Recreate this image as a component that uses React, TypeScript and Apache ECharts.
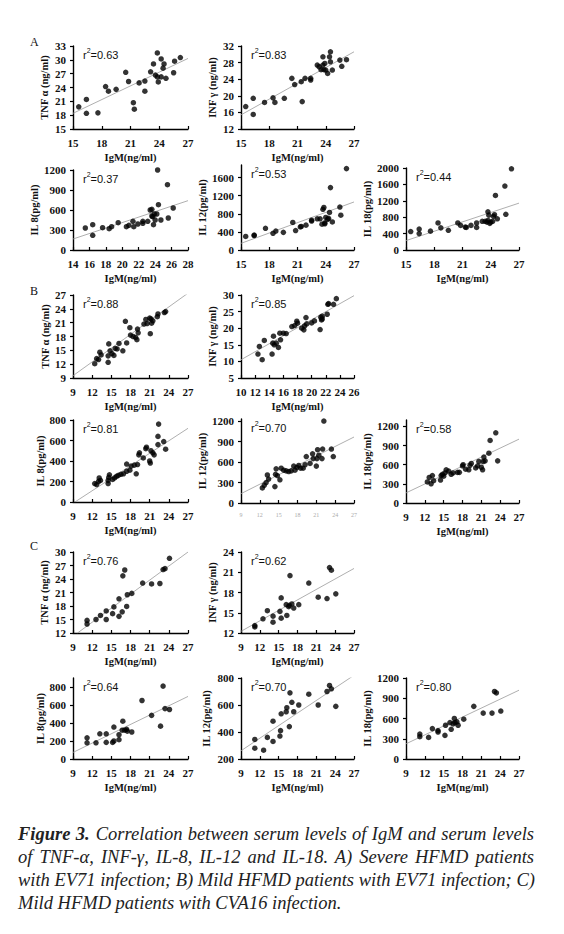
import React, { useEffect, useRef } from "react";
import * as echarts from "echarts";

const SERIF = "'Liberation Serif', 'Times New Roman', serif";
const SANS = "'Liberation Sans', Arial, sans-serif";

// ---- Section A: severe HFMD, EV71 ----
const aTnf = [[15.6,19.8],[16.4,21.4],[16.4,18.4],[17.6,18.5],[18.4,24.2],[18.7,23.2],[19.5,23.6],[20.5,27.3],[20.8,25.3],[21.3,20.7],[21.4,19.3],[21.9,25.0],[22.5,25.4],[22.5,23.2],[23.1,27.4],[23.4,29.1],[23.6,26.7],[23.8,31.5],[23.9,25.2],[23.8,26.3],[24.2,26.3],[24.2,30.2],[24.4,28.2],[24.5,29.1],[24.7,26.0],[25.5,27.2],[25.6,29.7],[26.2,30.5]];
const aInf = [[15.5,17.4],[16.3,19.4],[16.3,15.5],[17.5,18.4],[18.4,19.5],[18.6,18.4],[19.6,19.4],[20.4,24.2],[20.7,22.7],[21.4,23.4],[21.5,18.6],[21.8,24.2],[22.4,24.2],[22.4,23.8],[23.1,27.4],[23.3,27.0],[23.5,26.3],[23.7,29.4],[23.7,27.4],[23.8,26.3],[24.0,26.2],[24.2,25.4],[24.4,29.4],[24.5,30.6],[24.5,28.2],[24.7,26.2],[25.5,28.6],[25.7,27.1],[26.2,28.7],[23.9,27.8]];
const aIl8 = [[15.5,330],[16.4,380],[16.4,220],[17.6,335],[18.4,320],[18.7,350],[19.5,410],[20.5,350],[20.8,370],[21.3,430],[21.4,350],[21.9,390],[22.5,400],[22.5,430],[23.1,430],[23.4,600],[23.6,610],[23.7,500],[23.8,380],[23.9,540],[24.0,450],[24.2,540],[24.3,1200],[24.4,680],[24.7,450],[25.5,980],[25.6,480],[26.2,630],[23.6,510]];
const aIl12 = [[15.5,300],[16.4,320],[16.4,330],[17.6,480],[18.4,370],[18.7,420],[19.5,390],[20.5,610],[20.8,430],[21.3,510],[21.4,520],[21.9,550],[22.5,640],[22.5,660],[23.1,690],[23.4,690],[23.6,570],[23.7,900],[23.8,940],[23.9,580],[24.0,720],[24.2,680],[24.3,700],[24.4,830],[24.5,1380],[24.7,620],[25.5,950],[25.6,770],[26.2,1800],[23.9,600]];
const aIl18 = [[15.5,450],[16.4,510],[16.4,400],[17.6,460],[18.4,660],[18.7,540],[19.5,480],[20.5,660],[20.8,600],[21.3,560],[21.4,550],[21.9,600],[22.5,660],[22.5,550],[23.1,700],[23.4,700],[23.6,680],[23.7,930],[23.8,850],[23.9,650],[24.0,680],[24.2,700],[24.3,820],[24.4,860],[24.5,1330],[24.7,760],[25.5,1560],[25.6,870],[26.2,1980],[23.7,720]];

// ---- Section B: mild HFMD, EV71 ----
const bTnf = [[12.4,12.1],[12.7,13.2],[13.0,13.0],[13.2,14.6],[13.4,14.0],[14.5,12.4],[14.5,13.8],[14.6,16.4],[14.8,14.9],[15.1,14.3],[15.4,13.9],[15.6,15.4],[15.9,15.3],[16.2,16.5],[16.8,14.9],[17.2,21.3],[17.4,16.6],[17.9,19.9],[18.0,18.3],[18.4,18.0],[18.8,17.8],[19.0,17.3],[19.1,19.6],[19.2,18.8],[20.1,20.7],[20.4,21.7],[20.6,20.8],[21.0,22.0],[21.1,18.6],[21.2,21.8],[21.5,21.4],[22.2,22.3],[22.3,22.9],[23.3,23.2],[23.5,23.4],[21.3,20.9]];
const bInf = [[12.4,12.2],[12.6,14.5],[13.0,10.5],[13.3,16.3],[14.4,12.2],[14.5,15.5],[14.6,17.6],[14.7,15.0],[15.0,15.5],[15.3,14.2],[15.5,18.5],[15.6,16.5],[16.0,18.5],[16.4,18.4],[17.2,20.5],[17.6,20.8],[17.9,22.1],[18.0,21.5],[18.6,20.0],[18.9,19.5],[19.0,20.7],[19.2,23.2],[19.3,21.3],[20.0,21.6],[20.4,22.2],[21.2,19.6],[21.3,23.3],[21.4,22.5],[21.5,22.8],[22.2,24.2],[22.3,27.2],[22.4,27.4],[23.1,27.2],[23.5,28.9],[21.5,23.6]];
const bIl8 = [[12.4,180],[12.7,170],[13.0,200],[13.1,235],[13.3,210],[14.5,180],[14.5,210],[14.6,240],[14.7,265],[15.2,220],[15.5,235],[15.8,250],[16.1,260],[16.5,270],[16.9,275],[17.4,300],[17.4,370],[17.9,310],[18.1,350],[18.6,360],[18.9,275],[19.1,365],[19.3,460],[19.4,480],[20.0,430],[20.4,520],[20.5,535],[21.0,400],[21.1,380],[21.2,500],[21.5,480],[21.7,460],[22.3,560],[22.3,640],[22.4,760],[23.2,590],[23.5,515]];
const bIl12 = [[12.4,220],[12.7,260],[13.0,300],[13.2,410],[13.4,350],[14.4,240],[14.5,420],[14.6,500],[14.8,400],[15.2,340],[15.4,510],[15.8,480],[16.2,470],[16.6,460],[17.0,470],[17.4,540],[17.6,480],[17.9,520],[18.2,550],[18.5,510],[18.9,510],[19.2,560],[19.4,680],[20.0,580],[20.4,720],[20.5,650],[21.0,540],[21.1,650],[21.2,780],[21.4,700],[21.9,650],[22.0,790],[22.2,1200],[23.4,790],[23.7,680]];
const bIl18 = [[12.4,330],[12.7,400],[13.0,300],[13.2,430],[13.4,350],[14.5,360],[14.6,430],[14.8,450],[15.0,420],[15.2,470],[15.4,520],[15.8,500],[16.2,450],[16.5,470],[17.2,480],[17.5,480],[18.0,580],[18.1,600],[18.5,530],[19.0,520],[19.2,590],[19.4,620],[20.1,550],[20.4,580],[20.6,650],[21.0,560],[21.2,520],[21.3,650],[21.4,720],[21.6,660],[22.2,780],[22.4,980],[23.3,1100],[23.6,660]];

// ---- Section C: mild HFMD, CVA16 ----
const cTnf = [[11.2,14.8],[11.2,14.0],[12.6,15.0],[13.3,15.9],[14.2,16.9],[14.2,15.0],[15.2,16.3],[15.4,17.8],[16.2,19.6],[16.2,15.7],[16.7,16.7],[16.8,24.7],[17.1,26.0],[17.4,17.9],[17.5,20.5],[18.2,20.8],[19.9,23.1],[21.3,22.9],[22.6,23.0],[23.1,26.1],[23.4,26.3],[24.1,28.6]];
const cInf = [[11.2,13.1],[11.2,12.9],[12.5,14.1],[13.2,15.3],[14.1,14.5],[14.1,13.6],[15.2,15.2],[15.4,17.2],[15.4,14.2],[16.2,16.2],[16.3,14.6],[16.6,15.9],[16.8,20.5],[16.7,16.1],[17.1,16.3],[17.4,15.7],[18.2,16.2],[19.8,19.4],[21.3,17.3],[22.7,17.1],[23.1,21.7],[23.4,21.3],[24.1,17.8]];
const cIl8 = [[11.2,235],[11.2,180],[12.6,180],[13.2,280],[14.2,280],[14.2,185],[15.2,185],[15.4,200],[15.4,355],[16.2,270],[16.2,215],[16.7,320],[16.8,420],[17.1,320],[17.4,330],[17.5,310],[18.2,300],[19.8,650],[21.3,485],[22.7,365],[23.1,810],[23.4,560],[24.1,550]];
const cIl12 = [[11.2,345],[11.2,280],[12.6,265],[13.2,360],[14.1,480],[14.1,330],[15.2,370],[15.3,410],[15.4,535],[16.2,550],[16.3,580],[16.7,440],[16.8,690],[17.1,620],[17.4,550],[18.2,600],[19.8,680],[21.3,600],[22.7,700],[23.1,745],[23.4,720],[24.1,590]];
const cIl18 = [[11.2,370],[11.2,330],[12.6,320],[13.2,450],[14.1,420],[14.1,400],[15.2,350],[15.3,500],[16.0,540],[16.2,440],[16.5,520],[16.7,600],[16.8,540],[17.1,550],[17.3,500],[18.2,590],[19.8,780],[21.3,680],[22.7,680],[23.1,1000],[23.4,980],[24.1,710]];

// regression line end points [x0, y0, x1, y1]
const fits = {
  aTnf: [15, 18.4, 27, 30.3], aInf: [15, 15.4, 27, 30.6], aIl8: [14, 165, 28, 740], aIl12: [15, 147, 27, 1062], aIl18: [15, 229, 27, 1143],
  bTnf: [9, 9.5, 27, 27.4], bInf: [10, 10.5, 26, 29.8], bIl8: [9.3, 0, 27, 719], bIl12: [9, 137, 27, 966], bIl18: [9, 158, 27, 1000],
  cTnf: [9.7, 12, 27, 30], cInf: [9, 12.25, 27, 21.56], cIl8: [9, 73, 27, 695], cIl12: [9, 261, 27, 820], cIl18: [9, 225, 27, 1019],
};

const r2Labels = {
  aTnf: "0.63", aInf: "0.83", aIl8: "0.37", aIl12: "0.53", aIl18: "0.44",
  bTnf: "0.88", bInf: "0.85", bIl8: "0.81", bIl12: "0.70", bIl18: "0.58",
  cTnf: "0.76", cInf: "0.62", cIl8: "0.64", cIl12: "0.70", cIl18: "0.80",
};

const yNames = {
  tnf: "TNF α (ng/ml)", inf: "INF γ (ng/ml)", il8: "IL 8(pg/ml)", il12: "IL 12(pg/ml)", il18: "IL 18(pg/ml)",
};

const captionLines = [
  "Correlation between serum levels of IgM and serum levels",
  "of TNF-α, INF-γ, IL-8, IL-12 and IL-18. A) Severe HFMD patients",
  "with EV71 infection; B) Mild HFMD patients with EV71 infection; C)",
  "Mild HFMD patients with CVA16 infection.",
];

const COLS = [
  { left: 73, width: 115 },
  { left: 241, width: 113 },
  { left: 406, width: 113 },
];

type Panel = {
  key: string; data: number[][]; col: number; top: number; bottom: number;
  x: [number, number, number]; y: [number, number, number];
  yName: string; gapY: number; hideMaxY?: boolean; fadedX?: boolean;
};

const panels: Panel[] = [
  { key: "aTnf", data: aTnf, col: 0, top: 46, bottom: 129, x: [15, 27, 3], y: [15, 33, 3], yName: yNames.tnf, gapY: 23 },
  { key: "aInf", data: aInf, col: 1, top: 46, bottom: 129, x: [15, 27, 3], y: [12, 32, 4], yName: yNames.inf, gapY: 23 },
  { key: "aIl8", data: aIl8, col: 0, top: 170, bottom: 250, x: [14, 28, 2], y: [0, 1200, 300], yName: yNames.il8, gapY: 33 },
  { key: "aIl12", data: aIl12, col: 1, top: 165, bottom: 250, x: [15, 27, 3], y: [0, 1880, 400], yName: yNames.il12, gapY: 33, hideMaxY: true },
  { key: "aIl18", data: aIl18, col: 2, top: 168, bottom: 250, x: [15, 27, 3], y: [0, 2000, 400], yName: yNames.il18, gapY: 30 },
  { key: "bTnf", data: bTnf, col: 0, top: 295, bottom: 378, x: [9, 27, 3], y: [9, 27, 3], yName: yNames.tnf, gapY: 22 },
  { key: "bInf", data: bInf, col: 1, top: 295, bottom: 378, x: [10, 26, 2], y: [5, 30, 5], yName: yNames.inf, gapY: 23 },
  { key: "bIl8", data: bIl8, col: 0, top: 420, bottom: 502, x: [9, 27, 3], y: [0, 800, 200], yName: yNames.il8, gapY: 25 },
  { key: "bIl12", data: bIl12, col: 1, top: 419, bottom: 503, x: [9, 27, 3], y: [0, 1230, 300], yName: yNames.il12, gapY: 31, hideMaxY: true, fadedX: true },
  { key: "bIl18", data: bIl18, col: 2, top: 420, bottom: 503, x: [9, 27, 3], y: [0, 1300, 300], yName: yNames.il18, gapY: 29, hideMaxY: true },
  { key: "cTnf", data: cTnf, col: 0, top: 552, bottom: 633, x: [9, 27, 3], y: [12, 30, 3], yName: yNames.tnf, gapY: 23 },
  { key: "cInf", data: cInf, col: 1, top: 552, bottom: 633, x: [9, 27, 3], y: [12, 24, 3], yName: yNames.inf, gapY: 23 },
  { key: "cIl8", data: cIl8, col: 0, top: 678, bottom: 759, x: [9, 27, 3], y: [0, 900, 200], yName: yNames.il8, gapY: 25, hideMaxY: true },
  { key: "cIl12", data: cIl12, col: 1, top: 678, bottom: 759, x: [9, 27, 3], y: [200, 800, 200], yName: yNames.il12, gapY: 29 },
  { key: "cIl18", data: cIl18, col: 2, top: 678, bottom: 759, x: [9, 27, 3], y: [0, 1200, 300], yName: yNames.il18, gapY: 30 },
];

const sectionLetters = [
  { text: "A", x: 30, y: 36 },
  { text: "B", x: 30, y: 285 },
  { text: "C", x: 30, y: 540 },
];

const plain = (v: number) => String(v);

function buildOption() {
  const tickLabel = { fontFamily: SERIF, fontWeight: "bold" as const, fontSize: 11, color: "#111", formatter: plain };
  const nameStyle = { fontFamily: SERIF, fontWeight: "bold" as const, fontSize: 10.5, color: "#111" };
  const axisLine = { show: true, onZero: false, lineStyle: { color: "#000", width: 1.4 } };

  const grid = panels.map((p) => ({
    left: COLS[p.col].left,
    top: p.top,
    width: COLS[p.col].width,
    height: p.bottom - p.top,
    outerBoundsMode: "none",
    containLabel: false,
  }));

  const xAxis = panels.map((p, i) => ({
    gridIndex: i,
    type: "value",
    min: p.x[0],
    max: p.x[1],
    interval: p.x[2],
    name: p.fadedX ? "" : "IgM(ng/ml)",
    nameLocation: "middle",
    nameGap: 23,
    nameTextStyle: nameStyle,
    axisLine,
    axisTick: { show: true, inside: true, length: 3, lineStyle: { color: "#000", width: 1.2 } },
    splitLine: { show: false },
    axisLabel: p.fadedX
      ? { fontFamily: SERIF, fontSize: 6, color: "#aaa", margin: 9, formatter: plain }
      : { ...tickLabel, margin: 8 },
  }));

  const yAxis = panels.map((p, i) => ({
    gridIndex: i,
    type: "value",
    min: p.y[0],
    max: p.y[1],
    interval: p.y[2],
    name: p.yName,
    nameLocation: "middle",
    nameRotate: 90,
    nameGap: p.gapY,
    nameTextStyle: nameStyle,
    axisLine,
    axisTick: { show: true, inside: false, length: 3, lineStyle: { color: "#000", width: 1.2 } },
    splitLine: { show: false },
    axisLabel: { ...tickLabel, margin: 7, showMaxLabel: !p.hideMaxY },
  }));

  const series: any[] = [];
  panels.forEach((p, i) => {
    const f = (fits as any)[p.key];
    series.push({
      type: "line",
      xAxisIndex: i,
      yAxisIndex: i,
      data: [[f[0], f[1]], [f[2], f[3]]],
      symbol: "none",
      silent: true,
      clip: true,
      lineStyle: { color: "#9a9a9a", width: 0.8 },
      z: 2,
    });
    series.push({
      type: "scatter",
      xAxisIndex: i,
      yAxisIndex: i,
      data: p.data,
      symbol: "circle",
      symbolSize: 5.5,
      itemStyle: { color: "#000" },
      z: 3,
    });
  });

  const graphic: any[] = [];
  sectionLetters.forEach((s) => {
    graphic.push({
      type: "text",
      x: s.x,
      y: s.y,
      style: { text: s.text, font: `12px ${SERIF}`, fill: "#111" },
    });
  });
  panels.forEach((p) => {
    graphic.push({
      type: "text",
      x: COLS[p.col].left + 10,
      y: p.top + 1,
      style: {
        text: `{r|r}{s|2}{r|=${(r2Labels as any)[p.key]}}`,
        rich: {
          r: { fontFamily: SANS, fontSize: 11, fill: "#111", lineHeight: 13, verticalAlign: "bottom" },
          s: { fontFamily: SANS, fontSize: 7, fill: "#111", lineHeight: 13, verticalAlign: "top" },
        },
      },
    });
  });

  return { animation: false, grid, xAxis, yAxis, series, graphic };
}

export default function App() {
  const ref = useRef<HTMLDivElement>(null);
  useEffect(() => {
    if (!ref.current) return;
    const chart = echarts.init(ref.current, null, { renderer: "svg" });
    chart.setOption(buildOption() as any);
    return () => chart.dispose();
  }, []);

  const lineStyle = (last: boolean): React.CSSProperties => ({
    width: 516,
    height: 23,
    whiteSpace: "nowrap",
    textAlign: last ? "left" : "justify",
    textAlignLast: last ? "left" : "justify",
  });

  return (
    <div style={{ position: "absolute", left: 0, top: 0, width: 564, height: 934, background: "#fff" }}>
      <div ref={ref} style={{ position: "absolute", left: 0, top: 0, width: 564, height: 810 }} />
      <div
        style={{
          position: "absolute",
          left: 18,
          top: 823,
          width: 516,
          fontFamily: SERIF,
          fontStyle: "italic",
          fontSize: 18.5,
          lineHeight: "23px",
          color: "#222",
        }}
      >
        {captionLines.map((t, i) => (
          <div key={i} style={lineStyle(i === captionLines.length - 1)}>
            {i === 0 ? <span style={{ fontWeight: "bold", marginRight: 6 }}>Figure 3.</span> : null}
            {t}
          </div>
        ))}
      </div>
    </div>
  );
}
